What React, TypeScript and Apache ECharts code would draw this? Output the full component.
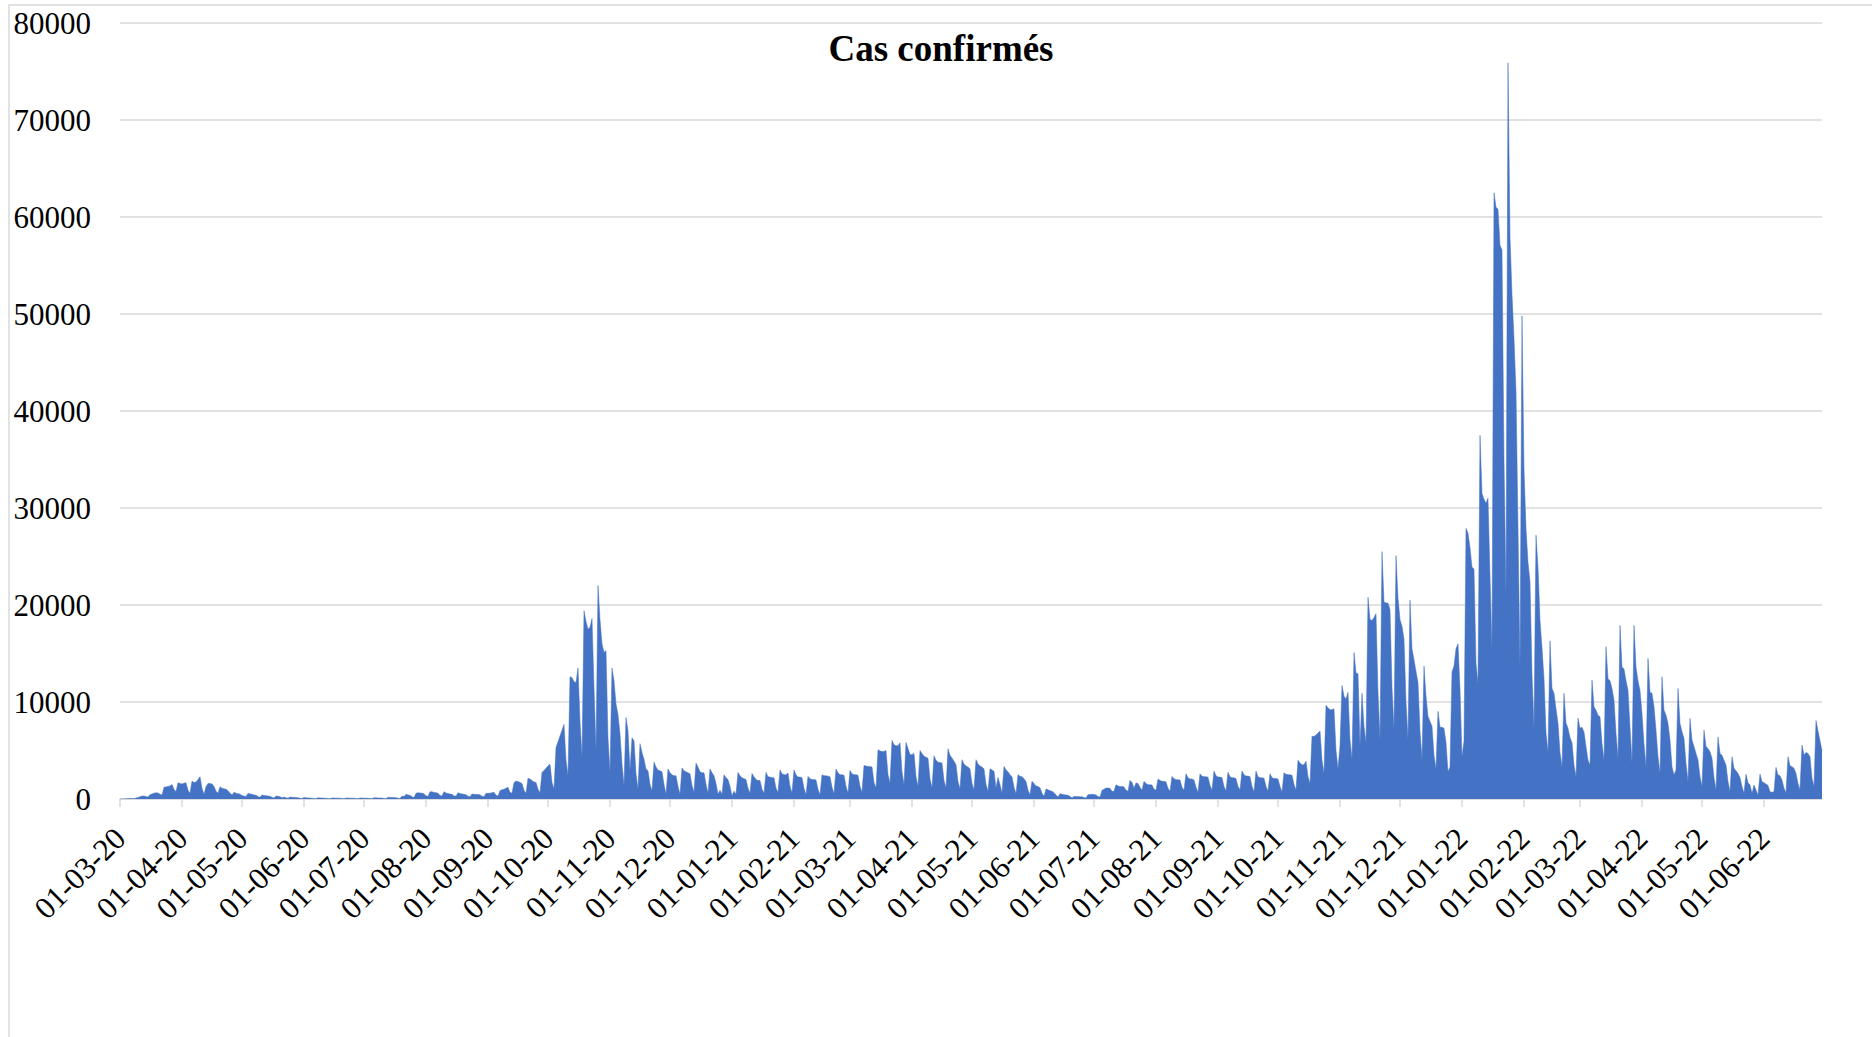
import { useEffect, useRef } from "react";
import * as echarts from "echarts";

// ---- Data ---------------------------------------------------------------
const START_DATE = "2020-03-01";
const TITLE = "Cas confirmés";
const Y_MIN = 0;
const Y_MAX = 80000;
const Y_STEP = 10000;

// Daily confirmed cases. Rows are weeks, Monday → Sunday.
const cases2020 = [
  2, // Sun 01-03
  5, 10, 20, 35, 50, 40, 30,
  110, 150, 230, 300, 320, 250, 200,
  450, 520, 600, 650, 620, 500, 400,
  1200, 1250, 1300, 1350, 1500, 1000, 750,
  1680, 1600, 1550, 1620, 1680, 900, 580,
  1850, 1700, 1750, 2000, 2300, 1100, 480,
  1270, 1600, 1600, 1550, 1300, 800, 580,
  1270, 1100, 1050, 1000, 850, 600, 420,
  690, 600, 550, 500, 350, 300, 240,
  580, 520, 480, 420, 380, 250, 170,
  410, 360, 340, 310, 280, 180, 100,
  310, 280, 240, 120, 200, 120, 70,
  200, 180, 160, 150, 130, 80, 40,
  150, 120, 110, 100, 90, 60, 30,
  130, 110, 100, 90, 80, 50, 25,
  110, 100, 90, 85, 80, 50, 25,
  100, 95, 90, 80, 75, 45, 25,
  110, 100, 90, 90, 85, 50, 30,
  130, 120, 110, 105, 100, 60, 35,
  170, 160, 150, 150, 140, 80, 50,
  300, 250, 480, 420, 380, 230, 150,
  580, 650, 620, 600, 550, 330, 250,
  750, 740, 680, 650, 600, 360, 320,
  750, 620, 560, 520, 480, 300, 300,
  650, 560, 520, 480, 440, 280, 240,
  510, 480, 470, 460, 430, 280, 240,
  580, 580, 600, 650, 690, 380, 300,
  860, 950, 1000, 1100, 1200, 700, 580,
  1680, 1850, 1800, 1700, 1600, 900, 580,
  2130, 2050, 1900, 1750, 1700, 1000, 650,
  2740, 2950, 3160, 3400, 3600, 1700, 1030,
  5300, 5900, 6500, 7100, 7700, 4000, 2400,
  12600, 12500, 12100, 12000, 13500, 8000, 4300,
  19400, 18300, 17500, 17700, 18600, 11500, 5000,
  22000, 18500, 16000, 15100, 15300, 6300, 2700,
  13500, 12200, 9800, 8700, 6700, 3600, 1400,
  8400, 7000, 2900, 6300, 6000, 2600, 1000,
  5700, 4800, 4100, 3100, 2900, 1500, 860,
  3800, 3300, 3000, 2900, 2800, 1500, 500,
  3100, 2700, 2500, 2400, 2400, 1300, 500,
  3200, 2900, 2800, 2700, 2600, 1400, 700,
  3700, 3300, 2800, 2700, 2700, 1500, 600,
  3100, 2700, 2400, 1600, 500, 900, 500,
  2500, 2200, 2000, 1300, // Mon 28-12 → Thu 31-12
];

const cases2021 = [
  340, 800, 500, // Fri 01-01 → Sun 03-01
  2740, 2400, 2200, 2100, 2000, 1100, 600,
  2640, 2300, 2000, 1900, 1900, 1000, 600,
  2740, 2300, 2260, 2200, 2200, 1100, 680,
  3000, 2600, 2500, 2500, 2670, 1300, 620,
  3000, 2500, 2260, 2260, 2200, 1100, 450,
  2330, 2100, 2000, 2000, 1950, 1000, 450,
  2500, 2400, 2400, 2350, 2300, 1200, 550,
  3090, 2700, 2500, 2500, 2450, 1300, 620,
  2950, 2600, 2500, 2500, 2450, 1300, 690,
  3460, 3400, 3360, 3360, 3300, 1700, 1130,
  5080, 4950, 4900, 4900, 5000, 2500, 1650,
  6040, 5600, 5500, 5490, 5800, 2800, 1470,
  5830, 5200, 4600, 4560, 4700, 2300, 1300,
  5000, 4700, 4400, 4300, 4200, 2100, 1130,
  4460, 4000, 3800, 3770, 3700, 1900, 1130,
  5180, 4500, 4220, 3900, 3530, 1800, 1030,
  4050, 3600, 3400, 3290, 3100, 1600, 960,
  4050, 3600, 3400, 3290, 3100, 1500, 790,
  3120, 3000, 2850, 1130, 2230, 1470, 620,
  3360, 3000, 2800, 2500, 2300, 1200, 550,
  2500, 2350, 2300, 2100, 1800, 900, 450,
  1820, 1600, 1350, 1300, 1150, 600, 280,
  1030, 950, 850, 800, 650, 400, 200,
  550, 500, 440, 420, 380, 250, 130,
  270, 260, 250, 240, 230, 150, 100,
  450, 470, 480, 460, 420, 250, 200,
  890, 1000, 1130, 1130, 1100, 800, 790,
  1470, 1350, 1300, 1300, 1250, 900, 790,
  1920, 1700, 1130, 1650, 1600, 1200, 890,
  1820, 1600, 1470, 1470, 1450, 1000, 890,
  2060, 1900, 1820, 1820, 1750, 1100, 790,
  2330, 2100, 1990, 1990, 1950, 1200, 890,
  2600, 2200, 2060, 2060, 1950, 1200, 690,
  2600, 2350, 2300, 2300, 2250, 1400, 920,
  2880, 2400, 2260, 2260, 2200, 1300, 820,
  2770, 2300, 2190, 2190, 2100, 1300, 920,
  2880, 2500, 2360, 2360, 2300, 1300, 750,
  2880, 2300, 2190, 2190, 2150, 1300, 820,
  2600, 2200, 2120, 2120, 2050, 1300, 720,
  2700, 2550, 2500, 2500, 2450, 1500, 920,
  4000, 3700, 3530, 3530, 3900, 2300, 1600,
  6470, 6450, 6600, 6800, 7000, 4000, 2640,
  9660, 9400, 9210, 9210, 9300, 5000, 3120,
  5500, 11700, 10600, 10300, 11000, 6100, 4080,
  15100, 13000, 12900, 5500, 10900, 7500, 5790,
  20800, 18500, 18400, 18700, 19100, 11000, 6100,
  25500, 20300, 20200, 20200, 19500, 11500, 7160,
  25100, 20700, 18500, 17800, 16500, 10000, 6130,
  20500, 15500, 14350, 13150, 12000, 7000, 4080,
  13700, 10600, 8530, 8000, 7500, 4500, 3050,
  9040, 7400, 7400, 7300, 5830, 2800, 3300,
  13100, 13700, 15500, 16000, 11350, // Mon 27-12 → Fri 31-12
];

const cases2022 = [
  4320, 6000, // Sat 01-01 → Sun 02-01
  27900, 27400, 25900, 23900, 23700, 14000, 11900,
  37500, 31500, 30900, 30500, 31000, 23000, 15400,
  62500, 61000, 60800, 57100, 56600, 35000, 20900,
  75900, 58000, 52000, 47500, 42000, 28000, 13400,
  49800, 34000, 27900, 24400, 22400, 12900, 7340,
  27200, 23900, 18400, 15600, 12400, 6800, 4800,
  16300, 11400, 10900, 9300, 7800, 4800, 3300,
  10900, 7840, 7300, 6330, 5800, 3500, 2300,
  8340, 7300, 7400, 6900, 5400, 4000, 3500,
  12250, 9500, 9160, 8640, 8470, 5730, 4000,
  15700, 12400, 12200, 11400, 10200, 6760, 4200,
  17900, 13600, 13400, 12200, 11200, 7400, 3700,
  17900, 13600, 12200, 11200, 8800, 5700, 3300,
  14500, 11000, 10900, 9500, 7100, 4360, 2640,
  12600, 9160, 8640, 7800, 6070, 3330, 2470,
  3000, 11400, 7800, 6930, 6240, 3670, 1780,
  8300, 6070, 5400, 4700, 4010, 2300, 1270,
  7100, 5400, 5200, 4870, 4200, 2200, 930,
  6400, 4700, 4500, 4000, 3500, 1800, 750,
  4360, 3160, 2900, 2640, 2200, 1300, 580,
  2540, 1680, 1440, 580, 1440, 930, 410,
  2570, 1780, 1680, 1540, 1400, 750, 690,
  750, 3260, 2470, 2400, 1950, 1100, 650,
  4360, 3430, 3330, 3160, 2640, 1610, 930,
  5560, 4530, 4800, 4700, 4360, 2130, 1270,
  8100, 7000, 6000, 5000, // Mon 27-06 → Thu 30-06
];

const dailyCases = [...cases2020, ...cases2021, ...cases2022];

function buildDates(start: string, n: number): string[] {
  const [y, m, d] = start.split("-").map(Number);
  const t0 = Date.UTC(y, m - 1, d);
  const out: string[] = [];
  for (let i = 0; i < n; i++) {
    const dt = new Date(t0 + i * 86400000);
    const dd = String(dt.getUTCDate()).padStart(2, "0");
    const mm = String(dt.getUTCMonth() + 1).padStart(2, "0");
    const yy = String(dt.getUTCFullYear() % 100).padStart(2, "0");
    out.push(`${dd}-${mm}-${yy}`);
  }
  return out;
}

const dates = buildDates(START_DATE, dailyCases.length);

// ---- Styles ---------------------------------------------------------------
const FONT = "'Liberation Serif', 'Times New Roman', serif";
const GRID_COLOR = "#d9d9d9";
const AREA_COLOR = "#4472C4";

const isMonthStart = (_i: number, v: string) => v.slice(0, 2) === "01";

export default function App() {
  const ref = useRef<HTMLDivElement>(null);

  useEffect(() => {
    if (!ref.current) return;
    const chart = echarts.init(ref.current, null, { renderer: "svg" });
    chart.setOption({
      animation: false,
      backgroundColor: "#ffffff",
      grid: { left: 120, right: 50, top: 23, bottom: 238, containLabel: false },
      graphic: [
        {
          type: "rect",
          shape: { x: 9, y: 5, width: 2000, height: 2000 },
          style: { fill: "none", stroke: GRID_COLOR, lineWidth: 1.5 },
          silent: true,
          z: -1,
        },
        {
          type: "text",
          x: 941,
          y: 48,
          style: {
            text: TITLE,
            font: `bold 37px ${FONT}`,
            fill: "#000000",
            textAlign: "center",
            textVerticalAlign: "middle",
          },
        },
      ],
      xAxis: {
        type: "category",
        data: dates,
        boundaryGap: false,
        axisLine: { lineStyle: { color: GRID_COLOR, width: 1.5 } },
        axisTick: {
          show: true,
          interval: isMonthStart,
          length: 8,
          lineStyle: { color: GRID_COLOR, width: 1.5 },
        },
        axisLabel: {
          interval: isMonthStart,
          rotate: 45,
          margin: 34,
          color: "#000000",
          fontFamily: FONT,
          fontSize: 31,
        },
        splitLine: { show: false },
      },
      yAxis: {
        type: "value",
        min: Y_MIN,
        max: Y_MAX,
        interval: Y_STEP,
        axisLine: { show: false },
        axisTick: { show: false },
        axisLabel: {
          margin: 29,
          color: "#000000",
          fontFamily: FONT,
          fontSize: 31,
          formatter: (v: number) => String(v),
        },
        splitLine: { lineStyle: { color: GRID_COLOR, width: 1.5 } },
      },
      series: [
        {
          type: "line",
          name: TITLE,
          data: dailyCases,
          symbol: "none",
          lineStyle: { width: 0.5, color: AREA_COLOR },
          areaStyle: { color: AREA_COLOR, opacity: 1 },
          itemStyle: { color: AREA_COLOR },
        },
      ],
    });
    return () => chart.dispose();
  }, []);

  return (
    <div
      ref={ref}
      style={{ position: "fixed", left: 0, top: 0, width: 1872, height: 1037, background: "#fff" }}
    />
  );
}
